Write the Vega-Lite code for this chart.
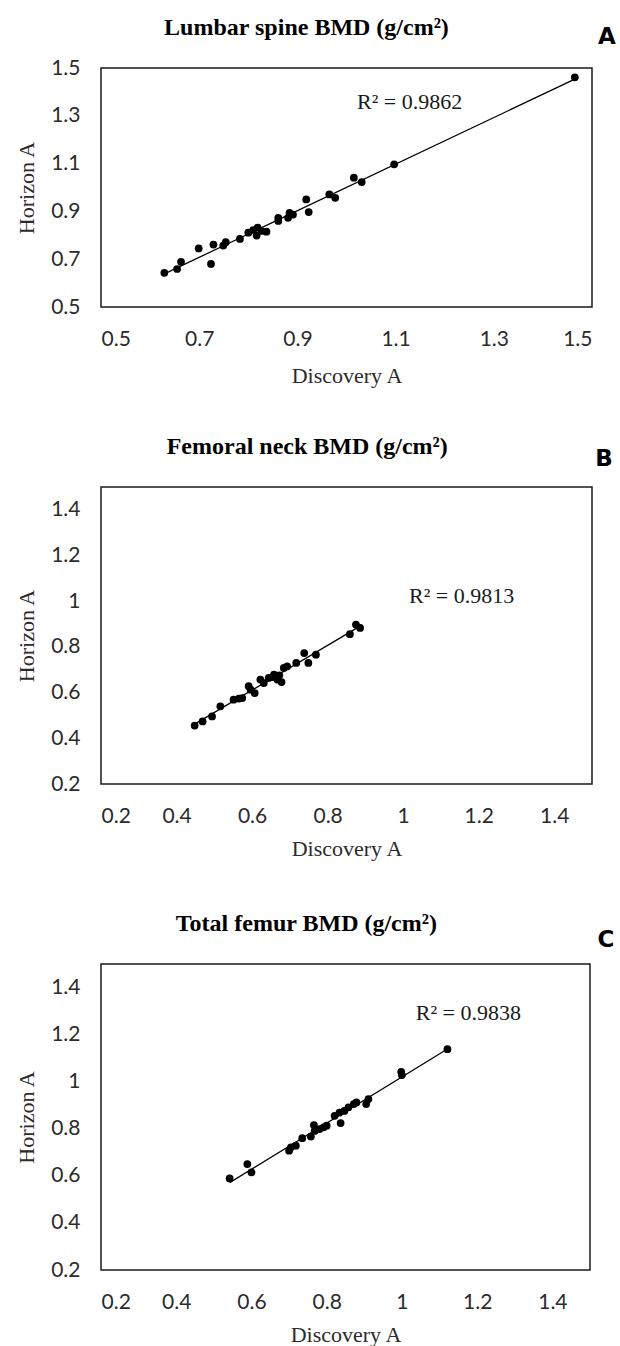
{
  "$schema": "https://vega.github.io/schema/vega-lite/v6.json",
  "background": "white",
  "padding": {"left": 14, "top": 14, "right": 0, "bottom": 0},
  "bounds": "flush",
  "spacing": 180,
  "config": {
    "view": {"stroke": "#1a1a1a", "strokeWidth": 1.5},
    "axis": {
      "grid": false, "ticks": false, "tickSize": 0, "domain": false,
      "labelFont": "Lato", "labelFontSize": 21, "labelColor": "#2b2b2b",
      "titleFont": "Liberation Serif", "titleFontSize": 22, "titleFontWeight": "normal", "titleColor": "#2b2b2b",
      "labelPadding": 21, "format": "~g"
    },
    "axisY": {"titlePadding": 12},
    "axisX": {"titlePadding": 12}
  },
  "datasets": {
    "lumbar": [
      {"discovery": 0.629, "horizon": 0.643}, {"discovery": 0.655, "horizon": 0.659}, {"discovery": 0.663, "horizon": 0.689},
      {"discovery": 0.699, "horizon": 0.745}, {"discovery": 0.724, "horizon": 0.680}, {"discovery": 0.729, "horizon": 0.761},
      {"discovery": 0.749, "horizon": 0.757}, {"discovery": 0.754, "horizon": 0.771}, {"discovery": 0.783, "horizon": 0.785},
      {"discovery": 0.800, "horizon": 0.811}, {"discovery": 0.810, "horizon": 0.822}, {"discovery": 0.817, "horizon": 0.799},
      {"discovery": 0.819, "horizon": 0.832}, {"discovery": 0.827, "horizon": 0.818}, {"discovery": 0.837, "horizon": 0.815},
      {"discovery": 0.861, "horizon": 0.860}, {"discovery": 0.861, "horizon": 0.873}, {"discovery": 0.881, "horizon": 0.873},
      {"discovery": 0.884, "horizon": 0.894}, {"discovery": 0.891, "horizon": 0.887}, {"discovery": 0.918, "horizon": 0.950},
      {"discovery": 0.923, "horizon": 0.897}, {"discovery": 0.965, "horizon": 0.971}, {"discovery": 0.977, "horizon": 0.957},
      {"discovery": 1.015, "horizon": 1.041}, {"discovery": 1.031, "horizon": 1.023}, {"discovery": 1.097, "horizon": 1.097},
      {"discovery": 1.465, "horizon": 1.461}
    ],
    "femneck": [
      {"discovery": 0.448, "horizon": 0.456}, {"discovery": 0.469, "horizon": 0.474}, {"discovery": 0.494, "horizon": 0.496},
      {"discovery": 0.516, "horizon": 0.540}, {"discovery": 0.551, "horizon": 0.569}, {"discovery": 0.565, "horizon": 0.574},
      {"discovery": 0.574, "horizon": 0.576}, {"discovery": 0.591, "horizon": 0.628}, {"discovery": 0.596, "horizon": 0.613},
      {"discovery": 0.607, "horizon": 0.598}, {"discovery": 0.622, "horizon": 0.657}, {"discovery": 0.631, "horizon": 0.642},
      {"discovery": 0.644, "horizon": 0.664}, {"discovery": 0.655, "horizon": 0.668}, {"discovery": 0.658, "horizon": 0.679},
      {"discovery": 0.667, "horizon": 0.657}, {"discovery": 0.672, "horizon": 0.676}, {"discovery": 0.678, "horizon": 0.646},
      {"discovery": 0.684, "horizon": 0.708}, {"discovery": 0.693, "horizon": 0.715}, {"discovery": 0.717, "horizon": 0.730},
      {"discovery": 0.738, "horizon": 0.773}, {"discovery": 0.749, "horizon": 0.730}, {"discovery": 0.769, "horizon": 0.766},
      {"discovery": 0.859, "horizon": 0.856}, {"discovery": 0.875, "horizon": 0.898}, {"discovery": 0.886, "horizon": 0.883}
    ],
    "totfem": [
      {"discovery": 0.542, "horizon": 0.589}, {"discovery": 0.589, "horizon": 0.650}, {"discovery": 0.600, "horizon": 0.615},
      {"discovery": 0.700, "horizon": 0.707}, {"discovery": 0.705, "horizon": 0.721}, {"discovery": 0.718, "horizon": 0.728},
      {"discovery": 0.735, "horizon": 0.760}, {"discovery": 0.758, "horizon": 0.767}, {"discovery": 0.766, "horizon": 0.816},
      {"discovery": 0.768, "horizon": 0.791}, {"discovery": 0.781, "horizon": 0.799}, {"discovery": 0.792, "horizon": 0.806},
      {"discovery": 0.800, "horizon": 0.813}, {"discovery": 0.821, "horizon": 0.855}, {"discovery": 0.834, "horizon": 0.869},
      {"discovery": 0.837, "horizon": 0.824}, {"discovery": 0.847, "horizon": 0.876}, {"discovery": 0.858, "horizon": 0.891},
      {"discovery": 0.872, "horizon": 0.905}, {"discovery": 0.879, "horizon": 0.912}, {"discovery": 0.905, "horizon": 0.905},
      {"discovery": 0.911, "horizon": 0.926}, {"discovery": 0.998, "horizon": 1.042}, {"discovery": 1.000, "horizon": 1.028},
      {"discovery": 1.121, "horizon": 1.138}
    ]
  },
  "vconcat": [
    {
      "width": 491, "height": 239,
      "layer": [
        {
          "data": {"name": "lumbar"},
          "mark": {"type": "circle", "size": 60, "color": "black", "opacity": 1},
          "encoding": {
            "x": {"field": "discovery", "type": "quantitative", "scale": {"domain": [0.5, 1.5], "nice": false, "zero": false},
                  "axis": {"title": "Discovery A", "values": [0.5, 0.7, 0.9, 1.1, 1.3, 1.5], "titlePadding": 16}},
            "y": {"field": "horizon", "type": "quantitative", "scale": {"domain": [0.5, 1.5], "nice": false, "zero": false},
                  "axis": {"title": "Horizon A", "values": [0.5, 0.7, 0.9, 1.1, 1.3, 1.5]}}
          }
        },
        {
          "data": {"name": "lumbar"},
          "transform": [{"regression": "horizon", "on": "discovery"}],
          "mark": {"type": "line", "color": "black", "strokeWidth": 1.3},
          "encoding": {"x": {"field": "discovery", "type": "quantitative"}, "y": {"field": "horizon", "type": "quantitative"}}
        },
        {
          "data": {"values": [{"label": "R² = 0.9862"}]},
          "mark": {"type": "text", "font": "Liberation Serif", "fontSize": 22, "align": "left", "baseline": "alphabetic", "color": "#1a1a1a"},
          "encoding": {"x": {"datum": 1.0214}, "y": {"datum": 1.328}, "text": {"field": "label"}}
        },
        {
          "data": {"values": [{"label": "Lumbar spine BMD (g/cm²)"}]},
          "mark": {"type": "text", "font": "Liberation Serif", "fontSize": 24, "fontWeight": "bold", "align": "center", "baseline": "alphabetic", "color": "black"},
          "encoding": {"x": {"datum": 0.9185}, "y": {"datum": 1.640}, "text": {"field": "label"}}
        },
        {
          "data": {"values": [{"label": "A"}]},
          "mark": {"type": "text", "font": "DejaVu Sans", "fontSize": 23, "fontWeight": "bold", "align": "center", "baseline": "alphabetic", "color": "black"},
          "encoding": {"x": {"datum": 1.5306}, "y": {"datum": 1.6007}, "text": {"field": "label"}}
        }
      ]
    },
    {
      "width": 491, "height": 297,
      "layer": [
        {
          "data": {"name": "femneck"},
          "mark": {"type": "circle", "size": 60, "color": "black", "opacity": 1},
          "encoding": {
            "x": {"field": "discovery", "type": "quantitative", "scale": {"domain": [0.2, 1.5], "nice": false, "zero": false},
                  "axis": {"title": "Discovery A", "values": [0.2, 0.4, 0.6, 0.8, 1, 1.2, 1.4]}},
            "y": {"field": "horizon", "type": "quantitative", "scale": {"domain": [0.2, 1.5], "nice": false, "zero": false},
                  "axis": {"title": "Horizon A", "values": [0.2, 0.4, 0.6, 0.8, 1, 1.2, 1.4]}}
          }
        },
        {
          "data": {"name": "femneck"},
          "transform": [{"regression": "horizon", "on": "discovery"}],
          "mark": {"type": "line", "color": "black", "strokeWidth": 1.3},
          "encoding": {"x": {"field": "discovery", "type": "quantitative"}, "y": {"field": "horizon", "type": "quantitative"}}
        },
        {
          "data": {"values": [{"label": "R² = 0.9813"}]},
          "mark": {"type": "text", "font": "Liberation Serif", "fontSize": 22, "align": "left", "baseline": "alphabetic", "color": "#1a1a1a"},
          "encoding": {"x": {"datum": 1.0155}, "y": {"datum": 0.992}, "text": {"field": "label"}}
        },
        {
          "data": {"values": [{"label": "Femoral neck BMD (g/cm²)"}]},
          "mark": {"type": "text", "font": "Liberation Serif", "fontSize": 24, "fontWeight": "bold", "align": "center", "baseline": "alphabetic", "color": "black"},
          "encoding": {"x": {"datum": 0.746}, "y": {"datum": 1.646}, "text": {"field": "label"}}
        },
        {
          "data": {"values": [{"label": "B"}]},
          "mark": {"type": "text", "font": "DejaVu Sans", "fontSize": 23, "fontWeight": "bold", "align": "center", "baseline": "alphabetic", "color": "black"},
          "encoding": {"x": {"datum": 1.532}, "y": {"datum": 1.591}, "text": {"field": "label"}}
        }
      ]
    },
    {
      "width": 489, "height": 306,
      "layer": [
        {
          "data": {"name": "totfem"},
          "mark": {"type": "circle", "size": 60, "color": "black", "opacity": 1},
          "encoding": {
            "x": {"field": "discovery", "type": "quantitative", "scale": {"domain": [0.2, 1.5], "nice": false, "zero": false},
                  "axis": {"title": "Discovery A", "values": [0.2, 0.4, 0.6, 0.8, 1, 1.2, 1.4]}},
            "y": {"field": "horizon", "type": "quantitative", "scale": {"domain": [0.2, 1.5], "nice": false, "zero": false},
                  "axis": {"title": "Horizon A", "values": [0.2, 0.4, 0.6, 0.8, 1, 1.2, 1.4]}}
          }
        },
        {
          "data": {"name": "totfem"},
          "transform": [{"regression": "horizon", "on": "discovery"}],
          "mark": {"type": "line", "color": "black", "strokeWidth": 1.3},
          "encoding": {"x": {"field": "discovery", "type": "quantitative"}, "y": {"field": "horizon", "type": "quantitative"}}
        },
        {
          "data": {"values": [{"label": "R² = 0.9838"}]},
          "mark": {"type": "text", "font": "Liberation Serif", "fontSize": 22, "align": "left", "baseline": "alphabetic", "color": "#1a1a1a"},
          "encoding": {"x": {"datum": 1.037}, "y": {"datum": 1.2635}, "text": {"field": "label"}}
        },
        {
          "data": {"values": [{"label": "Total femur BMD (g/cm²)"}]},
          "mark": {"type": "text", "font": "Liberation Serif", "fontSize": 24, "fontWeight": "bold", "align": "center", "baseline": "alphabetic", "color": "black"},
          "encoding": {"x": {"datum": 0.746}, "y": {"datum": 1.642}, "text": {"field": "label"}}
        },
        {
          "data": {"values": [{"label": "C"}]},
          "mark": {"type": "text", "font": "DejaVu Sans", "fontSize": 23, "fontWeight": "bold", "align": "center", "baseline": "alphabetic", "color": "black"},
          "encoding": {"x": {"datum": 1.5425}, "y": {"datum": 1.571}, "text": {"field": "label"}}
        }
      ]
    }
  ]
}
